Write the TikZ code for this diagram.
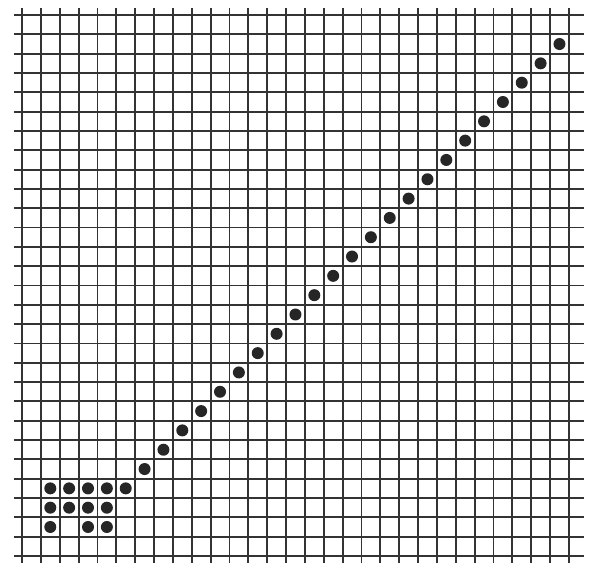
\documentclass[tikz,border=0pt]{standalone}
\usepackage{tikz}
\usetikzlibrary{positioning}

\begin{document}
\begin{tikzpicture}[x=14.145pt, y=14.49pt,
        gridline/.style={line width=1.4pt, black!80},
        dot/.style={circle, fill=black!85, inner sep=0pt, minimum size=9pt}]
        \useasboundingbox (-1.167,-0.362) rectangle (30.49,28.78);
        % grid
        \foreach \i in {0,...,28}
            \draw[gridline] (-0.42,\i) -- (29.8,\i);
        \foreach \j in {0,...,29}
            \draw[gridline] (\j,-0.362) -- (\j,28.36);

        % block of dots, bottom left
        \foreach \c/\r [count=\n] in {1/3,2/3,3/3,4/3,1/2,2/2,3/2,4/2,1/1,3/1,4/1}
            \node (blk\n) [dot] at (\c+0.5,\r+0.5) {};

        % diagonal
        \foreach \k in {5,...,28}
            \node (diag\k) [dot] at (\k+0.5,\k-1.5) {};
    \end{tikzpicture}
\end{document}
